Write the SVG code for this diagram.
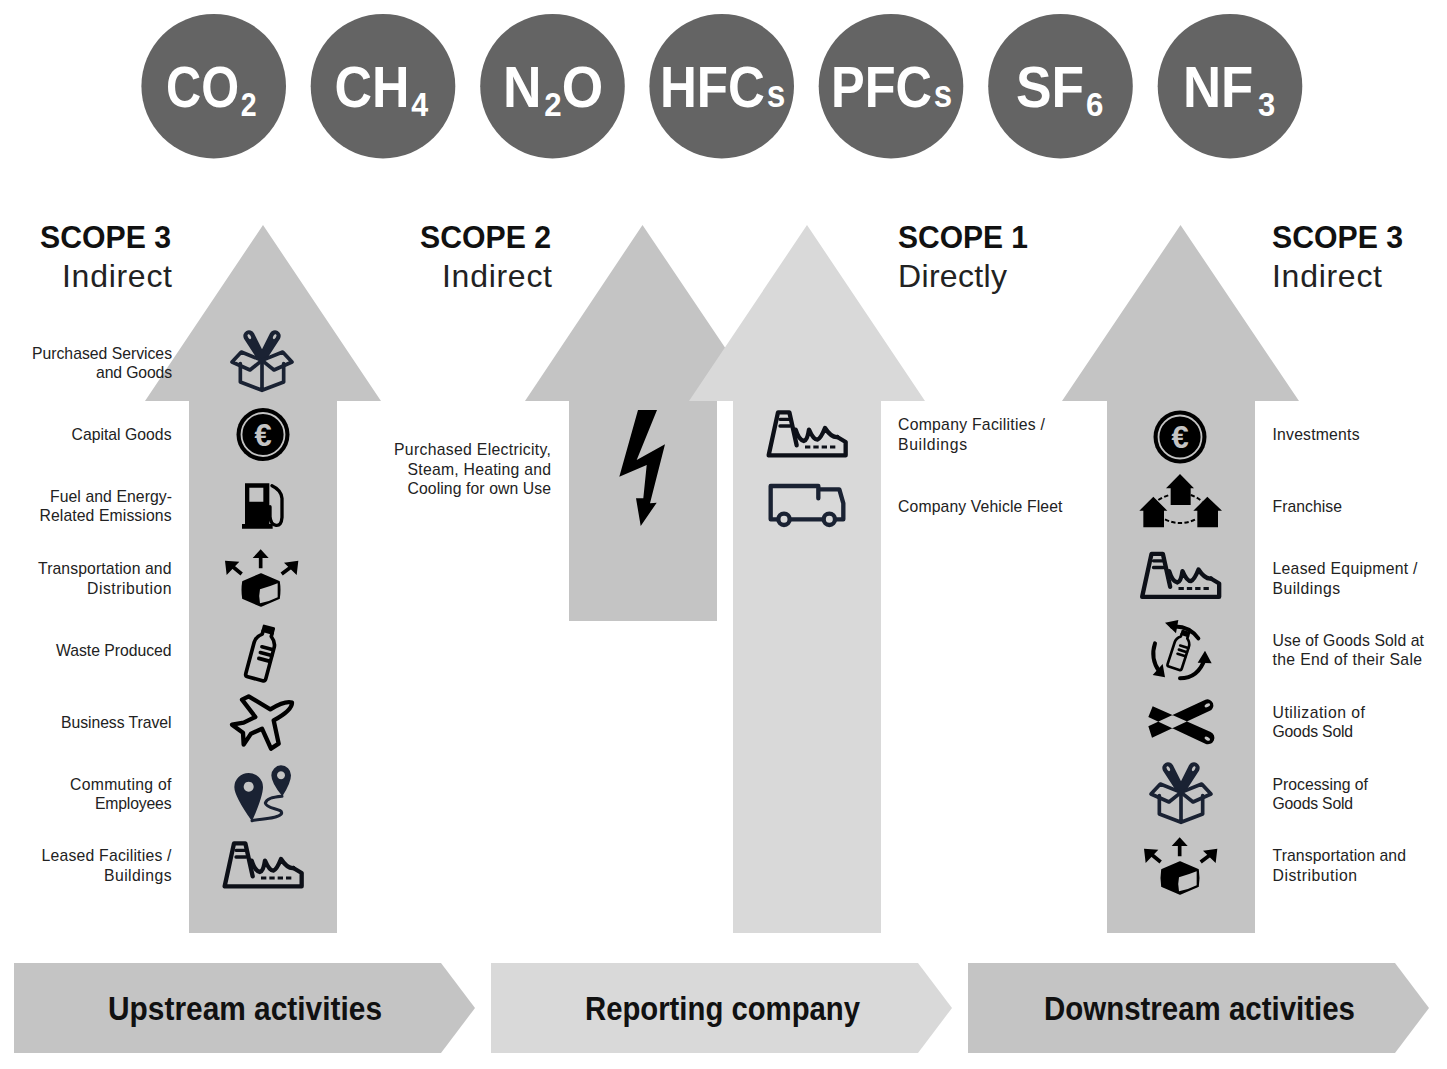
<svg xmlns="http://www.w3.org/2000/svg" width="1447" height="1069" viewBox="0 0 1447 1069">
<style>
text{font-family:"Liberation Sans",Arial,sans-serif}
.gas{font-weight:700;font-size:58px;fill:#fff}
.sb{font-size:34px}
.sm{font-size:38px}
.disc{fill:#646464}
.h{font-weight:700;font-size:31px;fill:#111}
.h2{font-size:32px;fill:#222}
.l{font-size:15.75px;fill:#222}
.b{font-weight:700;font-size:33px;fill:#111}
.a1{fill:#c4c4c4}.a2{fill:#d9d9d9}
.n{fill:none;stroke:#1a2233;stroke-width:11;stroke-linejoin:round;stroke-linecap:round}
.k{fill:none;stroke:#000;stroke-width:11;stroke-linejoin:round;stroke-linecap:round}
.f{fill:none;stroke:#0d1018;stroke-width:13;stroke-linejoin:round;stroke-linecap:round}
.nf{fill:#1a2233}
</style>
<defs>
<g id="i-box" transform="scale(.3333)">
<path class="n" d="M-65,5 V60 L0,85 L65,60 V5 M0,-5 V85"/>
<path class="nf" d="M-12,-5 L-54,-70 A16,16 0 0 1 -24,-86 L0,-38 L24,-86 A16,16 0 0 1 54,-70 L12,-5 Z"/>
<ellipse cx="-38" cy="-76" rx="4.500" ry="8" transform="rotate(-28 -38 -76)" fill="#c4c4c4"/>
<ellipse cx="38" cy="-76" rx="4.500" ry="8" transform="rotate(28 38 -76)" fill="#c4c4c4"/>
<path class="n" d="M-90,0 L-62,-30 L0,-5 L-36,24 Z M90,0 L62,-30 L0,-5 L36,24 Z"/>
</g>
<g id="i-coin">
<circle r="26.500" fill="#000"/>
<circle r="21.500" fill="none" stroke="#c4c4c4" stroke-width="1.800"/>
<text y="11" text-anchor="middle" style="font-weight:700;font-size:31px;fill:#c4c4c4">€</text>
</g>
<g id="i-pump" transform="scale(.3333) translate(-159,-555)">
<path d="M105,490 H178 V612 H188 V626 H96 V612 H105 Z M118,503 V545 H160 V503 Z" fill="#000" fill-rule="evenodd"/>
<path d="M186,497 Q214,510 216,535 V592 Q214,618 198,616 Q182,614 180,590 V560" fill="none" stroke="#000" stroke-width="10" stroke-linecap="round"/>
</g>
<g id="i-cube" transform="scale(.3333) translate(-156,-774)">
<path d="M153,762 L207,785 Q211,810 207,835 L153,858 L99,835 Q95,810 99,785 Z" fill="#000" stroke="#000" stroke-width="5" stroke-linejoin="round"/>
<path d="M150,808 Q178,800 203,790 V832 Q178,845 150,850 Q145,830 150,808 Z" fill="#c4c4c4"/>
<path d="M152,745 V702 M95,762 L62,735 M215,762 L248,737" stroke="#000" stroke-width="11" fill="none"/>
<path d="M128,714 L152,688 L176,714 Z M45,722 L88,725 L50,765 Z M265,722 L260,765 L222,728 Z" fill="#000"/>
</g>
<g id="i-bottle">
<rect x="-15" y="-80" width="30" height="15" fill="#000" stroke="#000" stroke-width="8" stroke-linejoin="round"/>
<path class="k" d="M-14,-65 V-55 Q-31,-42 -31,-25 V72 Q-31,80 -23,80 H23 Q31,80 31,72 V-25 Q31,-42 14,-55 V-65"/>
<path class="k" d="M-5,-18 H30 M-5,0 H30 M-5,18 H30"/>
</g>
<g id="i-plane" transform="scale(.3333) translate(-155,-320)">
<path class="k" style="stroke-width:13" d="M245,262 Q225,255 180,282 L115,243 L95,253 L135,305 L100,322 L65,328 L98,352 L100,388 L122,355 L155,340 L182,400 L205,385 L190,315 Q245,285 245,262 Z"/>
</g>
<g id="i-pins" transform="scale(.3333) translate(-155,-535)">
<path class="nf" fill-rule="evenodd" d="M115,475 A43,43 0 0 1 158,517 Q158,545 125,620 Q72,545 72,517 A43,43 0 0 1 115,475 Z M115,501 a15,15 0 1 0 .1,0 Z"/>
<path class="nf" fill-rule="evenodd" d="M212,452 A30,30 0 0 1 242,482 Q242,505 216,545 Q183,505 183,482 A30,30 0 0 1 212,452 Z M212,470 a12,12 0 1 0 .1,0 Z"/>
<path d="M215,545 Q170,548 165,565 C168,585 222,580 213,598 C200,612 160,612 125,618" fill="none" stroke="#1a2233" stroke-width="9" stroke-linecap="round"/>
</g>
<g id="i-factory" transform="scale(.3333) translate(-159,-751)">
<path class="f" d="M44,815 L72,686 H106 L128,785 M44,815 H275 V775 L250,760"/>
<path class="f" style="stroke-width:10" d="M78,707 H105 M78,727 H108"/>
<path class="f" d="M125,738 Q135,770 150,772 Q160,770 165,738 Q178,768 190,768 Q200,765 213,733 Q232,762 250,760"/>
<path d="M153,790 H245" stroke="#0d1018" stroke-width="9" stroke-dasharray="16 9" fill="none"/>
</g>
<g id="i-truck" transform="scale(.3333) translate(-621,-315)">
<path class="n" style="stroke-width:13" d="M535,358 H512 V258 H655 V268 H718 L730,310 V358 H708 M570,358 H670 M655,258 V295"/>
<circle cx="552" cy="358" r="17" fill="#d9d9d9" stroke="#1a2233" stroke-width="13"/>
<circle cx="688" cy="358" r="17" fill="#d9d9d9" stroke="#1a2233" stroke-width="13"/>
</g>
<g id="i-franchise" transform="scale(.3333) translate(-150,-305)">
<path d="M150,222 L192,265 H182 V315 H122 V265 H108 Z M70,290 L112,332 H102 V382 H40 V332 H28 Z M232,290 L276,332 H264 V382 H202 V332 H190 Z" fill="#000"/>
<path d="M85,300 Q100,290 118,285 M182,285 Q200,290 217,305 M105,358 Q150,380 197,358" fill="none" stroke="#000" stroke-width="6" stroke-dasharray="13 7"/>
</g>
<g id="i-recycle" transform="scale(.3333) translate(-150,-750)">
<use href="#i-bottle" transform="translate(150,750) rotate(18) scale(.72)"/>
<path d="M205,715 Q175,675 125,680 M75,730 Q60,775 88,815 M150,835 Q205,835 225,775" fill="none" stroke="#000" stroke-width="12" stroke-linecap="round"/>
<path d="M105,668 L145,660 L138,700 Z M105,832 L68,825 L98,792 Z M225,752 L245,790 L203,788 Z" fill="#000"/>
</g>
<g id="i-pens" transform="scale(.3333) translate(-150,-95)">
<path d="M55,108 L66,142 L238,62 A17,17 0 0 0 226,28 Z M55,80 L68,48 L242,125 A17,17 0 0 1 226,160 Z" fill="#000"/>
<ellipse cx="232" cy="45" rx="9" ry="5" transform="rotate(-28 232 45)" fill="#c4c4c4"/>
<ellipse cx="232" cy="145" rx="9" ry="5" transform="rotate(28 232 145)" fill="#c4c4c4"/>
</g>
</defs>

<g id="gases">
<g id="gas-co2"><circle class="disc" cx="213.700" cy="86.200" r="72.300"/><text class="gas" transform="translate(166,106.700) scale(.84,1)">CO<tspan class="sb" dx="2" dy="9">2</tspan></text></g>
<g id="gas-ch4"><circle class="disc" cx="383" cy="86.200" r="72.300"/><text class="gas" transform="translate(334.500,106.700) scale(.895,1)">CH<tspan class="sb" dx="2" dy="9">4</tspan></text></g>
<g id="gas-n2o"><circle class="disc" cx="552.500" cy="86.200" r="72.300"/><text class="gas" transform="translate(503,106.700) scale(.92,1)">N<tspan class="sb" dx="3" dy="9">2</tspan><tspan dy="-9">O</tspan></text></g>
<g id="gas-hfcs"><circle class="disc" cx="721.700" cy="86.200" r="72.300"/><text class="gas" transform="translate(660,106.700) scale(.88,1)">HFC<tspan class="sm" dx="2">s</tspan></text></g>
<g id="gas-pfcs"><circle class="disc" cx="891" cy="86.200" r="72.300"/><text class="gas" transform="translate(831,106.700) scale(.87,1)">PFC<tspan class="sm" dx="2">s</tspan></text></g>
<g id="gas-sf6"><circle class="disc" cx="1060.500" cy="86.200" r="72.300"/><text class="gas" transform="translate(1016,106.700) scale(.92,1)">SF<tspan class="sb" dx="2" dy="9">6</tspan></text></g>
<g id="gas-nf3"><circle class="disc" cx="1230" cy="86.200" r="72.300"/><text class="gas" transform="translate(1183,106.700) scale(.91,1)">NF<tspan class="sb" dx="5" dy="9">3</tspan></text></g>
</g>

<g id="connectors">
<polygon id="arrow-up3" class="a1" points="263,225 381,401 337,401 337,933 189,933 189,401 145,401"/>
<polygon id="arrow-s2" class="a1" points="642.500,225 761,401 717,401 717,621 569,621 569,401 525,401"/>
<polygon id="arrow-s1" class="a2" points="807,225 925,401 881,401 881,933 733,933 733,401 689,401"/>
<polygon id="arrow-down3" class="a1" points="1180.500,225 1299,401 1255,401 1255,933 1107,933 1107,401 1062,401"/>
</g>

<g id="scope3-up">
<text class="h" x="40" y="247.700" textLength="131" lengthAdjust="spacingAndGlyphs">SCOPE 3</text>
<text class="h2" x="62" y="287" textLength="110">Indirect</text>
<use href="#i-box" transform="translate(262,362)"/>
<use href="#i-coin" transform="translate(263,434.500)"/>
<use href="#i-pump" transform="translate(263,505)"/>
<use href="#i-cube" transform="translate(262,578)"/>
<use href="#i-bottle" transform="translate(262,653) rotate(15) scale(.3333)"/>
<use href="#i-plane" transform="translate(262,722)"/>
<use href="#i-pins" transform="translate(262,793)"/>
<use href="#i-factory" transform="translate(263,865)"/>
<text class="l" x="32" y="359" textLength="140">Purchased Services</text>
<text class="l" x="96" y="378" textLength="76">and Goods</text>
<text class="l" x="71.500" y="440" textLength="100">Capital Goods</text>
<text class="l" x="50" y="502" textLength="122">Fuel and Energy-</text>
<text class="l" x="39.500" y="521" textLength="132">Related Emissions</text>
<text class="l" x="38" y="574" textLength="133.500">Transportation and</text>
<text class="l" x="87" y="593.500" textLength="84.500">Distribution</text>
<text class="l" x="56" y="655.500" textLength="115.500">Waste Produced</text>
<text class="l" x="61" y="727.500" textLength="110.500">Business Travel</text>
<text class="l" x="70" y="789.500" textLength="101.500">Commuting of</text>
<text class="l" x="95" y="809" textLength="76.500">Employees</text>
<text class="l" x="41.500" y="861" textLength="130">Leased Facilities /</text>
<text class="l" x="104" y="881" textLength="67.500">Buildings</text>
</g>

<g id="scope2">
<text class="h" x="420" y="247.700" textLength="131" lengthAdjust="spacingAndGlyphs">SCOPE 2</text>
<text class="h2" x="442" y="287" textLength="110">Indirect</text>
<polygon fill="#000" points="638,410 657,410 636.700,460 665,444.300 650,503.300 656.700,502.700 640.700,526 636,498.300 643.300,498.300 646.700,465 619.300,476.700"/>
<text class="l" x="394" y="455" textLength="157">Purchased Electricity,</text>
<text class="l" x="407.500" y="474.500" textLength="143.500">Steam, Heating and</text>
<text class="l" x="407.500" y="494" textLength="143.500">Cooling for own Use</text>
</g>

<g id="scope1">
<text class="h" x="898" y="247.700" textLength="130" lengthAdjust="spacingAndGlyphs">SCOPE 1</text>
<text class="h2" x="898" y="287" textLength="109">Directly</text>
<use href="#i-factory" transform="translate(807,434)"/>
<use href="#i-truck" transform="translate(807,505)"/>
<text class="l" x="898" y="430" textLength="147">Company Facilities /</text>
<text class="l" x="898" y="450" textLength="69">Buildings</text>
<text class="l" x="898" y="512" textLength="164.500">Company Vehicle Fleet</text>
</g>

<g id="scope3-down">
<text class="h" x="1272" y="247.700" textLength="131" lengthAdjust="spacingAndGlyphs">SCOPE 3</text>
<text class="h2" x="1272" y="287" textLength="110">Indirect</text>
<use href="#i-coin" transform="translate(1180,437)"/>
<use href="#i-franchise" transform="translate(1180,501.700)"/>
<use href="#i-factory" transform="translate(1180.500,575.500)"/>
<use href="#i-recycle" transform="translate(1180,650)"/>
<use href="#i-pens" transform="translate(1180,722)"/>
<use href="#i-box" transform="translate(1181,794)"/>
<use href="#i-cube" transform="translate(1181,866)"/>
<text class="l" x="1272.500" y="440" textLength="87">Investments</text>
<text class="l" x="1272.500" y="512" textLength="69.500">Franchise</text>
<text class="l" x="1272.500" y="574" textLength="145">Leased Equipment /</text>
<text class="l" x="1272.500" y="593.500" textLength="67.500">Buildings</text>
<text class="l" x="1272.500" y="646" textLength="151.500">Use of Goods Sold at</text>
<text class="l" x="1272.500" y="665" textLength="149.500">the End of their Sale</text>
<text class="l" x="1272.500" y="718" textLength="92.500">Utilization of</text>
<text class="l" x="1272.500" y="737" textLength="80.500">Goods Sold</text>
<text class="l" x="1272.500" y="789.500" textLength="95.500">Processing of</text>
<text class="l" x="1272.500" y="809" textLength="80.500">Goods Sold</text>
<text class="l" x="1272.500" y="861" textLength="133.500">Transportation and</text>
<text class="l" x="1272.500" y="881" textLength="84.500">Distribution</text>
</g>

<g id="stage-upstream"><polygon class="a1" points="14,963 441,963 475,1008 441,1053 14,1053"/><text class="b" x="108" y="1020" textLength="274" lengthAdjust="spacingAndGlyphs">Upstream activities</text></g>
<g id="stage-reporting"><polygon class="a2" points="491,963 918,963 952,1008 918,1053 491,1053"/><text class="b" x="585" y="1020" textLength="275" lengthAdjust="spacingAndGlyphs">Reporting company</text></g>
<g id="stage-downstream"><polygon class="a1" points="968,963 1395,963 1429,1008 1395,1053 968,1053"/><text class="b" x="1044" y="1020" textLength="311" lengthAdjust="spacingAndGlyphs">Downstream activities</text></g>
</svg>
